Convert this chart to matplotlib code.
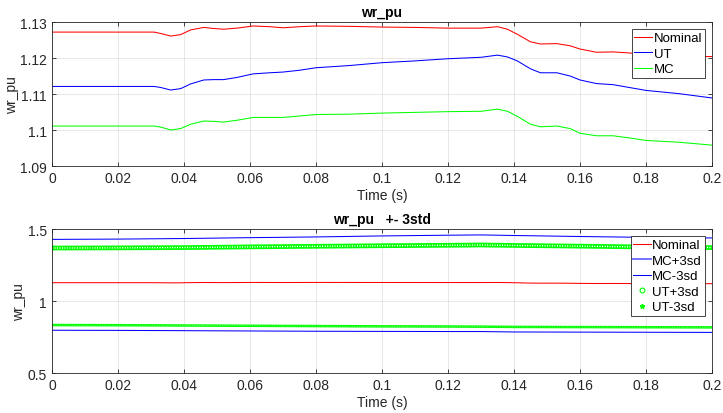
import numpy as np
import matplotlib
matplotlib.use('Agg')
import matplotlib.pyplot as plt
from matplotlib.lines import Line2D

plt.rcParams['font.family'] = ['Liberation Sans', 'DejaVu Sans']
plt.rcParams['font.size'] = 10

# time points
t = [0, 0.031, 0.033, 0.036, 0.039, 0.042, 0.046, 0.049, 0.052, 0.056, 0.061,
     0.066, 0.07, 0.075, 0.08, 0.09, 0.1, 0.11, 0.12, 0.13, 0.135, 0.138,
     0.141, 0.145, 0.148, 0.153, 0.157, 0.16, 0.165, 0.17, 0.175, 0.18, 0.19, 0.2]

nominal = [1.1272, 1.1272, 1.1268, 1.1261, 1.1265, 1.1278, 1.1285, 1.1282, 1.1280,
           1.1283, 1.1289, 1.1287, 1.1284, 1.1287, 1.1289, 1.1288, 1.1286, 1.1285,
           1.1283, 1.1283, 1.1287, 1.1280, 1.1266, 1.1245, 1.1239, 1.1240, 1.1234,
           1.1225, 1.1216, 1.1217, 1.1214, 1.1209, 1.1205, 1.1204]

ut = [1.1121, 1.1121, 1.1118, 1.1111, 1.1115, 1.1128, 1.1139, 1.1140, 1.1140,
      1.1146, 1.1156, 1.1159, 1.1161, 1.1166, 1.1173, 1.1179, 1.1187, 1.1192,
      1.1198, 1.1202, 1.1208, 1.1203, 1.1192, 1.1170, 1.1159, 1.1159, 1.1150,
      1.1139, 1.1129, 1.1126, 1.1118, 1.1110, 1.1101, 1.1089]

mc = [1.1011, 1.1011, 1.1008, 1.1000, 1.1004, 1.1016, 1.1025, 1.1024, 1.1022,
      1.1027, 1.1035, 1.1035, 1.1035, 1.1039, 1.1043, 1.1044, 1.1047, 1.1049,
      1.1051, 1.1052, 1.1058, 1.1052, 1.1038, 1.1016, 1.1009, 1.1011, 1.1004,
      1.0991, 1.0984, 1.0984, 1.0978, 1.0971, 1.0966, 1.0958]

# bottom panel (+- 3 std bands)
t2 = [0, 0.02, 0.04, 0.06, 0.08, 0.1, 0.12, 0.13, 0.14, 0.16, 0.18, 0.2]
mc_p3 = [1.428, 1.430, 1.434, 1.440, 1.445, 1.452, 1.457, 1.459, 1.455, 1.448, 1.442, 1.438]
mc_m3 = [0.797, 0.796, 0.794, 0.792, 0.790, 0.789, 0.788, 0.788, 0.785, 0.784, 0.783, 0.782]
ut_p3 = [1.368, 1.369, 1.371, 1.376, 1.380, 1.384, 1.387, 1.389, 1.386, 1.381, 1.375, 1.371]
ut_m3 = [0.833, 0.832, 0.830, 0.828, 0.826, 0.824, 0.823, 0.822, 0.820, 0.819, 0.818, 0.817]

red = (1, 0, 0)
blue = (0, 0, 1)
green = (0, 1, 0)
edge = (0.15, 0.15, 0.15)


def style_axes(ax, yticks, ylim):
    ax.set_xlim(0, 0.2)
    ax.set_ylim(*ylim)
    ax.set_xticks(np.arange(0, 0.201, 0.02))
    ax.set_xticklabels(['0', '0.02', '0.04', '0.06', '0.08', '0.1', '0.12',
                        '0.14', '0.16', '0.18', '0.2'])
    ax.set_yticks(yticks)
    ax.grid(True, color=(0.15, 0.15, 0.15), alpha=0.12, lw=0.6)
    ax.tick_params(direction='in', length=3, width=0.6, colors=edge,
                   top=True, right=True, labelsize=10, labelcolor=edge)
    for s in ax.spines.values():
        s.set_color(edge)
        s.set_linewidth(0.6)
    ax.set_xlabel('Time (s)', color=edge, labelpad=2)
    ax.set_ylabel('wr_pu', color=edge, labelpad=1)


def make_legend(ax, handles=None, labels=None):
    kw = dict(loc='upper right', borderaxespad=0.55, fancybox=False,
              framealpha=1, edgecolor=edge, handlelength=1.35,
              handletextpad=0.1, labelspacing=0.25, borderpad=0.2,
              fontsize=9.5)
    if handles is None:
        leg = ax.legend(**kw)
    else:
        leg = ax.legend(handles, labels, **kw)
    leg.get_frame().set_linewidth(0.6)
    return leg


fig = plt.figure(figsize=(7.23, 4.14), dpi=100)
ax1 = fig.add_axes([0.0719, 0.5966, 0.9129, 0.3478])
ax2 = fig.add_axes([0.0719, 0.0966, 0.9129, 0.3478])

ax1.plot(t, nominal, color=red, lw=0.75, label='Nominal')
ax1.plot(t, ut, color=blue, lw=0.75, label='UT')
ax1.plot(t, mc, color=green, lw=0.75, label='MC')
style_axes(ax1, [1.09, 1.10, 1.11, 1.12, 1.13], (1.09, 1.13))
ax1.set_yticklabels(['1.09', '1.1', '1.11', '1.12', '1.13'])
ax1.set_title('wr_pu', fontweight='bold', fontsize=10, pad=4)
make_legend(ax1)

# bottom panel
ax2.plot(t, nominal, color=red, lw=0.75)
ax2.plot(t2, mc_p3, color=blue, lw=0.75)
ax2.plot(t2, mc_m3, color=blue, lw=0.75)
# dense ring markers rendered as a green band with white holes
ax2.plot(t2, ut_p3, color=green, lw=3.4, solid_capstyle='butt')
ax2.plot(t2, ut_p3, color='white', lw=1.0, linestyle=(0, (0.8, 1.0)),
         dash_capstyle='butt')
ax2.plot(t2, ut_m3, color=green, lw=1.8, solid_capstyle='butt')
ax2.plot(t2, ut_m3, color=(0.6, 1, 0.6), lw=0.6, linestyle=(0, (1, 2)))
style_axes(ax2, [0.5, 1.0, 1.5], (0.5, 1.5))
ax2.set_yticklabels(['0.5', '1', '1.5'])
ax2.set_title('wr_pu   +- 3std', fontweight='bold', fontsize=10, pad=4)

handles = [
    Line2D([], [], color=red, lw=0.75),
    Line2D([], [], color=(0.45, 0.45, 1), lw=1.4),
    Line2D([], [], color=blue, lw=0.75),
    Line2D([], [], color=green, lw=0, marker='o', markersize=3.5,
           markerfacecolor='none', markeredgewidth=0.8),
    Line2D([], [], color=green, lw=0, marker='*', markersize=3.5),
]
labels = ['Nominal', 'MC+3sd', 'MC-3sd', 'UT+3sd', 'UT-3sd']
make_legend(ax2, handles, labels)

fig.savefig('out.png', dpi=100)
